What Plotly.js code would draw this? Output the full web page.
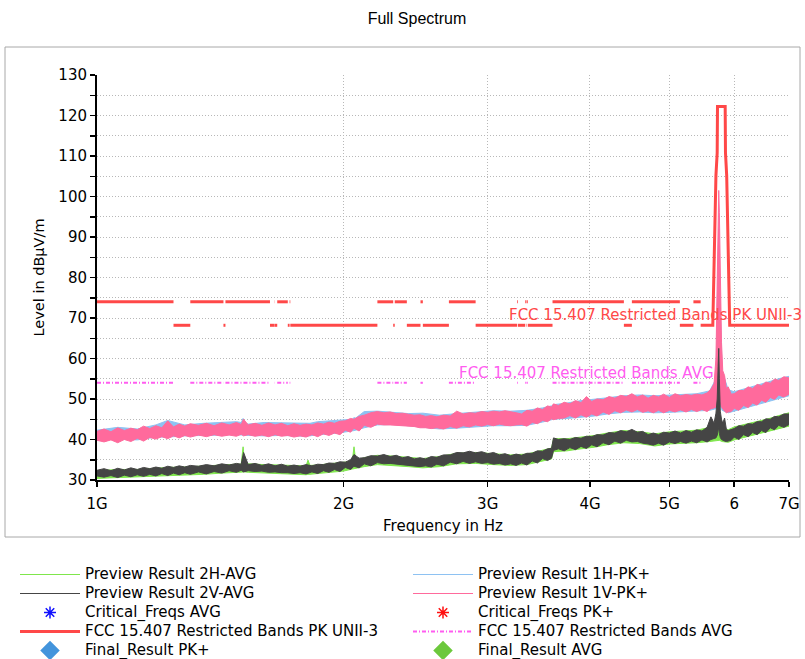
<!DOCTYPE html>
<html><head><meta charset="utf-8">
<script src="https://cdn.plot.ly/plotly-3.0.1.min.js"></script>
<style>html,body{margin:0;padding:0;background:#fff;}#chart{width:805px;height:659px;}</style>
</head><body><div id="chart"></div>
<script>
// ---------- data (frequencies in GHz, levels in dBµV/m) ----------
const freqMain = [
 1.00,1.02,1.04,1.06,1.08,1.10,1.12,1.14,1.16,1.18,
 1.20,1.22,1.24,1.26,1.28,1.30,1.33,1.36,1.39,1.42,
 1.45,1.48,1.50,1.51,1.53,1.56,1.59,1.62,1.65,1.68,
 1.71,1.74,1.77,1.80,1.83,1.86,1.89,1.92,1.95,1.98,
 2.01,2.04,2.06,2.09,2.12,2.16,2.20,2.24,2.28,2.32,
 2.36,2.40,2.44,2.48,2.52,2.56,2.60,2.65,2.70,2.75,
 2.80,2.85,2.90,2.95,3.00,3.05,3.10,3.15,3.20,3.25,
 3.30,3.35,3.40,3.45,3.50,3.55,3.59,3.61,3.66,3.72,
 3.78,3.84,3.90,3.96,4.02,4.08,4.15,4.22,4.29,4.36,
 4.43,4.50,4.57,4.64,4.71,4.78,4.85,4.92,5.00,5.08,
 5.16,5.24,5.32,5.40,5.48,5.56,5.62,5.67,5.70,5.72,
 5.735,5.745,5.755,5.77,5.79,5.81,5.84,5.87,5.90,5.95,
 6.00,6.08,6.16,6.24,6.32,6.40,6.48,6.56,6.64,6.72,
 6.80,6.90,7.00];

// Preview Result 1V-PK+ (lower / upper envelope of the sweep)
const v1PkLow = [
 39.8,39.4,39.9,39.2,40.0,39.5,40.3,39.6,40.5,40.1,
 40.7,40.2,40.9,40.4,41.0,40.6,41.1,40.7,41.2,40.8,
 41.1,40.8,41.3,40.9,41.2,40.8,41.1,40.7,41.2,40.8,
 41.0,40.6,40.9,40.6,41.2,40.7,41.4,41.0,41.6,41.2,
 42.3,41.8,42.8,42.1,43.5,43.0,43.8,43.6,43.6,43.5,
 43.4,43.3,43.2,42.9,42.9,42.7,42.9,42.6,43.2,42.8,
 43.4,43.1,43.6,43.3,43.7,43.4,43.8,43.5,43.4,43.6,
 43.7,43.3,44.2,43.9,44.7,44.4,45.1,44.9,45.2,45.3,
 45.9,45.3,46.1,45.5,46.3,45.8,46.8,46.2,47.1,46.6,
 47.3,46.8,47.4,46.7,47.1,46.6,47.2,46.6,47.2,46.8,
 47.3,46.8,47.4,46.9,47.4,46.9,47.6,47.8,48.0,49.0,
 52.0,54.0,52.0,49.0,48.0,47.5,47.0,46.6,46.8,46.9,
 47.7,47.2,48.4,47.9,49.0,48.5,49.7,49.2,50.4,49.9,
 51.0,50.5,51.2];
const v1PkHigh = [
 42.0,42.6,41.9,42.9,42.2,42.8,42.4,43.3,42.7,43.4,
 42.9,44.6,43.1,43.8,43.3,43.9,43.5,44.0,43.4,44.1,
 43.6,44.2,43.7,45.0,43.6,44.0,43.5,44.1,43.6,44.0,
 43.4,43.9,43.5,43.8,43.6,44.1,43.8,44.3,44.0,44.5,
 44.6,45.2,45.0,45.7,46.0,46.6,46.9,46.6,46.8,46.4,
 46.5,46.2,46.0,46.1,45.7,45.9,45.6,46.0,45.8,47.0,
 46.3,46.6,46.5,46.9,46.7,47.0,46.8,47.1,46.9,46.6,
 46.3,47.2,47.0,47.8,47.4,48.3,48.0,48.8,48.4,49.2,
 48.8,49.6,49.1,50.6,49.4,50.0,49.8,50.6,50.2,50.9,
 50.6,51.3,50.5,51.0,50.2,50.9,50.5,51.2,50.4,51.3,
 50.8,51.1,50.9,51.2,51.0,51.5,52.4,53.8,60.0,84.0,
 98.0,101.5,96.0,80.0,64.0,57.0,55.8,52.5,53.0,51.2,
 51.3,52.1,52.1,53.0,52.6,53.6,53.3,54.2,53.9,54.9,
 54.6,55.5,55.2];

// Preview Result 2V-AVG
const v2AvgLow = [
 31.0,30.7,31.1,30.6,31.2,30.8,31.3,30.9,31.4,31.0,
 31.6,31.1,31.7,31.3,31.8,31.4,32.0,31.5,32.1,31.7,
 32.3,31.9,32.4,32.0,32.3,32.1,32.2,31.9,32.0,31.8,
 31.8,31.6,31.8,31.5,32.0,31.6,32.3,31.9,32.6,32.1,
 33.1,32.6,33.4,33.0,34.0,33.5,34.3,34.0,34.1,33.9,
 33.8,33.6,33.5,33.3,33.5,33.2,33.9,33.5,34.4,34.0,
 34.6,34.1,34.5,34.1,34.3,33.9,34.1,33.7,34.0,33.6,
 34.2,33.7,34.7,34.2,35.3,34.8,35.4,37.3,37.7,37.2,
 38.0,37.5,38.3,37.8,38.7,38.2,39.2,38.7,39.6,39.1,
 39.8,39.4,39.5,39.1,38.9,38.6,39.1,38.6,39.4,39.0,
 39.5,39.1,39.6,39.2,39.9,39.4,40.0,40.2,40.4,41.0,
 42.0,43.0,41.5,40.5,40.0,39.8,39.6,39.5,39.6,39.8,
 40.6,40.0,41.2,40.7,41.7,41.2,42.2,41.7,42.9,42.4,
 43.5,43.0,43.7];
const v2AvgHigh = [
 32.4,32.8,32.3,32.9,32.5,33.0,32.6,33.1,32.8,33.2,
 32.9,33.4,33.1,33.5,33.2,33.6,33.4,33.8,33.5,34.0,
 33.7,34.1,33.9,36.8,33.8,34.1,33.6,34.0,33.5,33.9,
 33.4,33.7,33.4,33.8,33.5,33.9,33.8,34.2,34.1,34.5,
 34.4,35.0,36.3,35.4,35.5,36.0,35.9,36.3,35.8,36.1,
 35.5,35.8,35.2,35.5,35.2,35.8,35.6,36.2,36.2,36.8,
 36.7,37.1,36.7,37.0,36.5,36.8,36.2,36.5,36.0,36.4,
 36.1,36.6,36.6,37.2,37.1,37.7,37.8,40.4,40.0,40.2,
 40.0,40.5,40.3,40.8,40.7,41.2,41.1,41.7,41.6,42.2,
 41.9,42.5,41.8,42.0,41.2,41.6,41.2,41.8,41.6,42.1,
 41.6,42.2,41.8,42.4,42.1,43.0,45.6,44.0,46.5,50.0,
 58.0,62.5,55.0,47.0,45.0,44.0,45.3,42.5,42.2,42.4,
 42.7,43.4,43.3,43.9,43.8,44.4,44.4,45.1,45.0,45.7,
 45.6,46.3,46.3];

const freqAux = [
 1.00,1.06,1.12,1.18,1.22,1.28,1.35,1.42,1.48,1.50,1.508,1.515,
 1.53,1.60,1.68,1.76,1.80,1.81,1.82,1.86,1.93,2.00,2.05,2.06,2.07,2.12,
 2.20,2.30,2.40,2.50,2.62,2.75,2.90,3.05,3.20,3.35,
 3.50,3.59,3.61,3.75,3.90,4.05,4.20,4.40,4.60,4.80,
 5.00,5.20,5.40,5.60,5.70,5.735,5.745,5.755,5.80,5.90,
 6.00,6.20,6.40,6.60,6.80,7.00];

// Preview Result 1H-PK+
const h1PkLow = [
 39.8,40.1,39.9,40.6,40.6,40.9,41.0,41.2,41.2,41.1,41.2,41.1,
 41.0,40.9,41.0,40.8,40.8,40.9,40.9,41.2,41.4,41.8,42.0,42.2,42.3,42.9,
 43.6,43.7,43.4,43.0,42.6,42.8,43.1,43.4,43.4,43.5,
 44.3,44.8,45.0,45.2,45.5,45.8,46.3,46.7,46.8,46.6,
 46.7,46.9,47.0,47.2,47.6,49.0,50.0,49.0,47.2,46.6,
 47.0,47.8,48.6,49.4,50.2,50.8];
const h1PkHigh = [
 42.3,43.0,42.6,43.6,44.7,43.6,44.0,44.3,44.4,44.2,45.2,44.0,
 43.8,44.2,44.1,44.0,43.9,43.9,44.0,44.4,44.6,44.8,45.0,45.4,45.3,46.9,
 47.0,46.7,46.4,46.5,46.0,46.4,46.7,47.1,47.0,47.2,
 47.8,48.3,48.6,49.0,49.6,49.9,50.3,50.8,51.0,50.8,
 51.0,51.1,51.3,52.0,55.0,85.0,92.0,80.0,57.0,52.3,
 51.8,52.6,53.5,54.2,55.0,55.6];

// Preview Result 2H-AVG
const h2AvgLow = [
 30.4,30.6,30.7,30.9,31.1,31.2,31.4,31.7,31.9,32.0,32.0,32.0,
 31.9,31.7,31.5,31.3,31.3,31.4,31.4,31.6,31.9,32.2,32.7,32.8,32.9,33.3,
 33.8,33.6,33.3,33.0,33.3,34.0,34.1,33.8,33.6,33.8,
 34.7,35.2,37.0,37.2,37.7,38.1,38.7,39.2,39.0,38.4,
 38.9,39.0,39.2,39.5,39.6,39.8,39.8,39.8,39.5,39.3,
 39.9,40.6,41.2,41.9,42.6,43.3];
const h2AvgHigh = [
 32.3,32.6,32.6,33.0,33.1,33.2,33.5,33.8,33.9,33.9,38.2,34.0,
 34.0,33.8,33.6,33.5,33.5,34.9,33.6,33.7,34.0,34.4,34.6,38.2,34.8,35.5,
 36.1,35.9,35.5,35.3,35.8,36.6,36.8,36.5,36.2,36.4,
 37.3,37.9,40.2,40.2,40.6,41.0,41.6,42.2,41.9,41.4,
 41.9,42.1,42.3,43.0,44.0,47.0,52.5,46.0,43.0,42.4,
 43.1,43.8,44.4,45.1,45.9,46.6];

// Limits: FCC 15.205 restricted bands inside the sweep, 15.407 UNII-3 mask
const restrictedStart = [1.0,1.3,1.435,1.6455,1.66,1.7188,2.2,2.31,2.4835,2.69,3.26,3.332,3.3458,3.6,4.5,5.35];
const restrictedEnd   = [1.24,1.427,1.6265,1.6465,1.71,1.7222,2.3,2.39,2.5,2.9,3.267,3.339,3.358,4.4,5.15,5.46];
const restrictedPkLevel = 74;
const restrictedAvgLevel = 54;
const outOfBandLevel = 68.2;
const unii3MaskFreq  = [5.65,5.7,5.72,5.725,5.85,5.855,5.875,5.925];
const unii3MaskLevel = [68.2,105.2,110.8,122.2,122.2,110.8,105.2,68.2];
const sweepStop = 7.0;

// Final / critical results (no points in this sweep)
const critAvgFreq = [null], critAvgLevel = [null];
const critPkFreq = [null], critPkLevel = [null];
const finalPkFreq = [null], finalPkLevel = [null];
const finalAvgFreq = [null], finalAvgLevel = [null];

const seriesNames = ['Preview Result 2H-AVG','Preview Result 1H-PK+','Preview Result 2V-AVG','Preview Result 1V-PK+',
  'Critical_Freqs AVG','Critical_Freqs PK+','FCC 15.407 Restricted Bands PK UNII-3','FCC 15.407 Restricted Bands AVG',
  'Final_Result PK+','Final_Result AVG'];
const xTickVals = [1,2,3,4,5,6,7];
const xTickText = ['1G','2G','3G','4G','5G','6','7G'];

// ---------- build ----------
const FONT = 'DejaVu Sans, Verdana, sans-serif';
const lbl = s => '<span style="font-size:15px">' + s + '</span>';

function band(x, lo, hi, k, color) {
  return [
    {x: x, y: lo, type: 'scatter', mode: 'lines', name: lbl(seriesNames[k]), legendrank: k + 1,
     line: {color: color, width: 1}, hoverinfo: 'skip'},
    {x: x, y: hi, type: 'scatter', mode: 'lines', showlegend: false, fill: 'tonexty', fillcolor: color,
     line: {color: color, width: 1}, hoverinfo: 'skip'}
  ];
}

const pkX = [], pkY = [];
restrictedStart.forEach((s, i) => {
  pkX.push(s, restrictedEnd[i], null); pkY.push(restrictedPkLevel, restrictedPkLevel, null);
  const gs = restrictedEnd[i];
  const ge = i + 1 < restrictedStart.length ? restrictedStart[i + 1] : sweepStop;
  pkX.push(gs); pkY.push(outOfBandLevel);
  unii3MaskFreq.forEach((f, j) => { if (f > gs && f < ge) { pkX.push(f); pkY.push(unii3MaskLevel[j]); } });
  pkX.push(ge, null); pkY.push(outOfBandLevel, null);
});
const avgX = [], avgY = [];
restrictedStart.forEach((s, i) => { avgX.push(s, restrictedEnd[i], null); avgY.push(restrictedAvgLevel, restrictedAvgLevel, null); });

const traces = [].concat(
  band(freqAux, h2AvgLow, h2AvgHigh, 0, '#7fe64c'),
  band(freqAux, h1PkLow, h1PkHigh, 1, '#8ec2f2'),
  band(freqMain, v1PkLow, v1PkHigh, 3, '#ff6a9c'),
  band(freqMain, v2AvgLow, v2AvgHigh, 2, '#454545'),
  [
    {x: critAvgFreq, y: critAvgLevel, type: 'scatter', mode: 'markers', name: lbl(seriesNames[4]), legendrank: 5,
     marker: {symbol: 'asterisk-open', color: '#1010ff', size: 10, line: {color: '#1010ff', width: 1.5}}},
    {x: critPkFreq, y: critPkLevel, type: 'scatter', mode: 'markers', name: lbl(seriesNames[5]), legendrank: 6,
     marker: {symbol: 'asterisk-open', color: '#ff1010', size: 10, line: {color: '#ff1010', width: 1.5}}},
    {x: pkX, y: pkY, type: 'scatter', mode: 'lines', name: lbl(seriesNames[6]), legendrank: 7, connectgaps: false,
     line: {color: '#ff4848', width: 3}, hoverinfo: 'skip'},
    {x: avgX, y: avgY, type: 'scatter', mode: 'lines', name: lbl(seriesNames[7]), legendrank: 8, connectgaps: false,
     line: {color: '#ff5cf0', width: 2, dash: '4px,2px,1px,2px'}, hoverinfo: 'skip'},
    {x: finalPkFreq, y: finalPkLevel, type: 'scatter', mode: 'markers', name: lbl(seriesNames[8]), legendrank: 9,
     marker: {symbol: 'diamond', color: '#4394dc', size: 15}},
    {x: finalAvgFreq, y: finalAvgLevel, type: 'scatter', mode: 'markers', name: lbl(seriesNames[9]), legendrank: 10,
     marker: {symbol: 'diamond', color: '#6cc83c', size: 15}}
  ]
);

const W = 692, H = 405, L = 97, T = 75;
const px = v => (v - L) / W;
const py = v => (T + H - v) / H;

const gridDash = '1px,2px';
const layout = {
  width: 805, height: 659,
  margin: {l: L, r: 805 - L - W, t: T, b: 659 - T - H, autoexpand: false},
  paper_bgcolor: '#fff', plot_bgcolor: '#fff',
  font: {family: FONT, size: 15, color: '#000'},
  showlegend: true,
  title: {text: 'Full Spectrum', font: {family: 'Liberation Sans, Arial, sans-serif', size: 16, color: '#000'},
          xref: 'container', x: 417 / 805, xanchor: 'center', yref: 'container', y: 1 - 18 / 659, yanchor: 'middle'},
  xaxis: {
    type: 'log', range: [0, Math.log10(7)], tickmode: 'array', tickvals: xTickVals, ticktext: xTickText,
    ticks: 'outside', ticklen: 5, tickwidth: 1.5, tickcolor: '#000', ticklabelstandoff: 4,
    showline: true, linecolor: '#000', linewidth: 2,
    showgrid: true, gridcolor: '#b8b8b8', griddash: gridDash, gridwidth: 1, zeroline: false,
    tickfont: {size: 15},
    title: {text: 'Frequency in Hz', font: {size: 15}, standoff: 8}
  },
  yaxis: {
    range: [30, 130], tickmode: 'linear', tick0: 30, dtick: 10,
    ticks: 'outside', ticklen: 5, tickwidth: 1.5, tickcolor: '#000',
    showline: true, linecolor: '#000', linewidth: 2,
    showgrid: true, gridcolor: '#b8b8b8', griddash: gridDash, gridwidth: 1, zeroline: false,
    minor: {tickmode: 'linear', tick0: 30, dtick: 5, ticks: 'outside', ticklen: 5, tickwidth: 1.5, tickcolor: '#000',
            showgrid: true, gridcolor: '#b8b8b8', griddash: gridDash, gridwidth: 1},
    tickfont: {size: 15},
    title: {text: 'Level in dBµV/m', font: {size: 14.5}, standoff: 10}
  },
  legend: {
    orientation: 'h', x: px(15), xanchor: 'left', y: py(560), yanchor: 'top',
    entrywidth: 318, entrywidthmode: 'pixels', itemwidth: 60, traceorder: 'normal',
    font: {family: FONT, size: 11, color: '#000'}, bgcolor: 'rgba(0,0,0,0)', borderwidth: 0
  },
  shapes: [
    {type: 'rect', xref: 'paper', yref: 'paper', x0: px(5), x1: px(800), y0: py(537), y1: py(47),
     line: {color: '#a8a8a8', width: 1}, fillcolor: 'rgba(0,0,0,0)', layer: 'below'}
  ],
  annotations: [
    {xref: 'x', yref: 'y', x: Math.log10(3.17), y: 70.7, xanchor: 'left', yanchor: 'middle', showarrow: false,
     text: 'FCC 15.407 Restricted Bands PK UNII-3', font: {family: FONT, size: 15, color: '#ff4848'}},
    {xref: 'x', yref: 'y', x: Math.log10(2.75), y: 56.5, xanchor: 'left', yanchor: 'middle', showarrow: false,
     text: 'FCC 15.407 Restricted Bands AVG', font: {family: FONT, size: 15, color: '#ff5cf0'}}
  ]
};

Plotly.newPlot('chart', traces, layout, {staticPlot: true, displayModeBar: false});
</script>
</body></html>
